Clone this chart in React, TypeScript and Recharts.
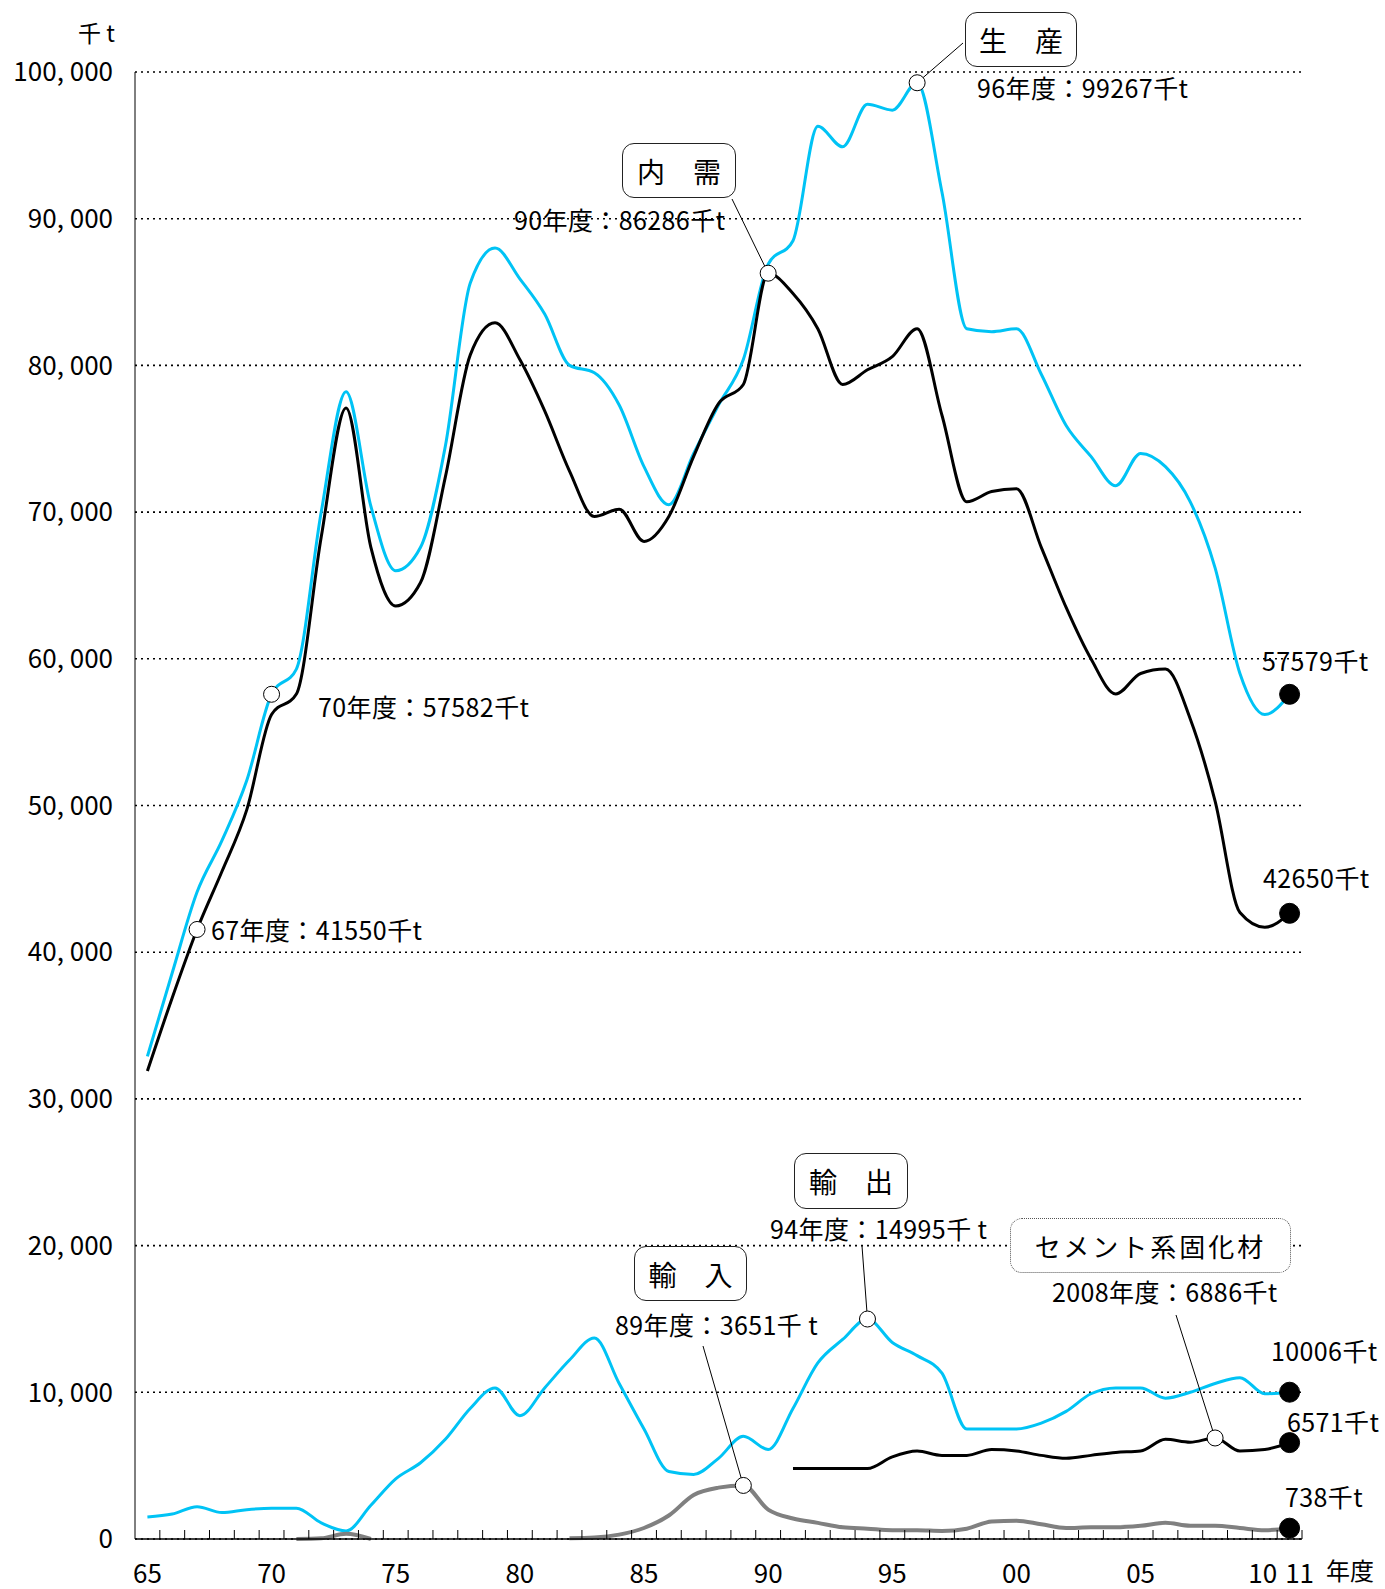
import { LineChart, Line, XAxis, YAxis, CartesianGrid, ReferenceDot, ReferenceLine } from "recharts";

const years = [
  1965, 1966, 1967, 1968, 1969, 1970, 1971, 1972, 1973, 1974, 1975, 1976, 1977, 1978, 1979, 1980,
  1981, 1982, 1983, 1984, 1985, 1986, 1987, 1988, 1989, 1990, 1991, 1992, 1993, 1994, 1995, 1996,
  1997, 1998, 1999, 2000, 2001, 2002, 2003, 2004, 2005, 2006, 2007, 2008, 2009, 2010, 2011,
];

// 生産
const production = [
  32900, 38600, 44100, 47600, 51700, 57582, 59300, 70000, 78200, 70400, 66000, 67600, 74500, 85600, 88000, 85900,
  83500, 80000, 79500, 77300, 73100, 70500, 74000, 77300, 80400, 86900, 88500, 96300, 94900, 97800, 97400, 99267,
  91800, 82500, 82300, 82500, 79400, 75900, 73800, 71800, 74000, 73100, 70700, 66200, 59000, 56200, 57579,
];

// 内需
const domestic = [
  31900, 36900, 41550, 45500, 49700, 56200, 57600, 68300, 77100, 67600, 63600, 65200, 72400, 80700, 82900, 80400,
  76900, 72800, 69700, 70200, 68000, 69700, 73800, 77400, 78700, 86286, 84900, 82500, 78700, 79700, 80600, 82500,
  76600, 70700, 71400, 71600, 67600, 63500, 60000, 57600, 59000, 59300, 55900, 50300, 42700, 41700, 42650,
];

// 輸出
const exportsT = [
  1500, 1700, 2200, 1800, 2000, 2100, 2100, 1100, 550, 2300, 4100, 5200, 6800, 8900, 10300, 8400,
  10300, 12200, 13700, 10600, 7500, 4600, 4400, 5500, 7000, 6100, 8900, 12000, 13600, 14995, 13400, 12500,
  11300, 7500, 7500, 7500, 7900, 8700, 9900, 10300, 10300, 9600, 10000, 10600, 11000, 9900, 10006,
];

// 輸入
const importsT = [
  null, null, null, null, null, null, 0, 50, 350, 0, null, null, null, null, null, null,
  null, 50, 100, 300, 750, 1600, 3000, 3500, 3651, 2000, 1400, 1100, 800, 700, 600, 600,
  550, 700, 1200, 1250, 1000, 750, 800, 800, 900, 1100, 900, 900, 750, 600, 738,
];

// セメント系固化材
const solidifier = [
  null, null, null, null, null, null, null, null, null, null, null, null, null, null, null, null,
  null, null, null, null, null, null, null, null, null, null, 4800, 4800, 4800, 4800, 5600, 6000,
  5700, 5700, 6100, 6000, 5700, 5500, 5700, 5900, 6000, 6800, 6600, 6886, 6000, 6100, 6571,
];

const yTicks = [0, 10000, 20000, 30000, 40000, 50000, 60000, 70000, 80000, 90000, 100000];
const xLabelYears = [1965, 1970, 1975, 1980, 1985, 1990, 1995, 2000, 2005, 2010, 2011];

const data = years.map((year, i) => ({
  year,
  production: production[i],
  domestic: domestic[i],
  exportsT: exportsT[i],
  importsT: importsT[i],
  solidifier: solidifier[i],
}));

const W = 1385;
const H = 1589;
const PLOT = { left: 135, right: 1302, top: 72, bottom: 1539 };
const X_MIN = 1964.5;
const X_MAX = 2011.5;
const Y_MAX = 100000;

const CYAN = "#00C3F5";
const FONT = "'Noto Sans CJK JP', 'Noto Sans', sans-serif";

// pixel -> data, for leader-line anchors at the callout boxes
const toData = (px: number, py: number) => ({
  x: X_MIN + ((px - PLOT.left) / (PLOT.right - PLOT.left)) * (X_MAX - X_MIN),
  y: ((PLOT.bottom - py) / (PLOT.bottom - PLOT.top)) * Y_MAX,
});

const at = (arr: (number | null)[], year: number) => arr[years.indexOf(year)] as number;

const xTicks = [...xLabelYears, ...years.map((y) => y + 0.5)];

const XTick = (props: any) => {
  const { x, y, payload } = props;
  const v = payload.value;
  if (!Number.isInteger(v)) {
    return <line x1={x} x2={x} y1={y} y2={y - 9} stroke="#000" strokeWidth={1} />;
  }
  const label = String(v % 100).padStart(2, "0");
  const shift = v === 2011 ? 10 : v === 2010 ? -2 : 0;
  return (
    <text x={x + shift} y={y + 44} textAnchor="middle" fontSize={26} fontFamily={FONT} fill="#000">
      {label}
    </text>
  );
};

const fmtY = (v: number) => (v === 0 ? "0" : `${Math.floor(v / 1000)}, ${String(v % 1000).padStart(3, "0")}`);

const Box = ({ left, top, width, height, text, dotted, fontSize = 28, spacing = 0 }: any) => (
  <div
    style={{
      position: "absolute",
      left,
      top,
      width,
      height,
      boxSizing: "border-box",
      border: dotted ? "1.5px dotted #555" : "1.5px solid #222",
      borderRadius: 12,
      background: "#fff",
      display: "flex",
      alignItems: "center",
      justifyContent: "center",
      fontFamily: FONT,
      fontSize,
      letterSpacing: spacing,
      color: "#000",
      whiteSpace: "pre",
    }}
  >
    {text}
  </div>
);

const Label = ({ left, cy, text, size = 25, spacing = 0.4 }: any) => (
  <div
    style={{
      position: "absolute",
      left,
      top: cy - size * 0.6,
      fontFamily: FONT,
      fontSize: size,
      lineHeight: 1.2,
      letterSpacing: spacing,
      color: "#000",
      whiteSpace: "pre",
    }}
  >
    {text}
  </div>
);

const leaders = [
  { from: { x: 1996, y: at(production, 1996) }, to: toData(963, 43) },
  { from: { x: 1990, y: at(domestic, 1990) }, to: toData(732, 199) },
  { from: { x: 1994, y: at(exportsT, 1994) }, to: toData(862, 1246) },
  { from: { x: 1989, y: at(importsT, 1989) }, to: toData(703, 1346) },
  { from: { x: 2008, y: at(solidifier, 2008) }, to: toData(1176, 1315) },
];

const openDots = [
  { x: 1967, y: at(domestic, 1967) },
  { x: 1970, y: at(production, 1970) },
  { x: 1990, y: at(domestic, 1990) },
  { x: 1996, y: at(production, 1996) },
  { x: 1989, y: at(importsT, 1989) },
  { x: 1994, y: at(exportsT, 1994) },
  { x: 2008, y: at(solidifier, 2008) },
];

const endDots = [production, domestic, exportsT, solidifier, importsT].map((arr) => ({ x: 2011, y: at(arr, 2011) }));

export default function App() {
  return (
    <div style={{ position: "absolute", left: 0, top: 0, width: W, height: H, background: "#fff", overflow: "hidden" }}>
      <LineChart
        width={W}
        height={H}
        data={data}
        margin={{ top: PLOT.top, right: W - PLOT.right, bottom: 10, left: PLOT.left - 100 }}
      >
        <CartesianGrid vertical={false} stroke="#000" strokeDasharray="2 4" strokeWidth={1.6} />
        <XAxis
          type="number"
          dataKey="year"
          domain={[X_MIN, X_MAX]}
          ticks={xTicks}
          interval={0}
          tick={<XTick />}
          tickLine={false}
          tickSize={0}
          tickMargin={0}
          height={40}
          axisLine={{ stroke: "#000", strokeWidth: 1.5 }}
        />
        <YAxis
          type="number"
          domain={[0, Y_MAX]}
          ticks={yTicks}
          interval={0}
          width={100}
          tickLine={false}
          tickSize={0}
          tickMargin={22}
          tickFormatter={fmtY}
          tick={{ fontSize: 26, fontFamily: FONT, fill: "#000" }}
          axisLine={{ stroke: "#000", strokeWidth: 1 }}
        />
        <Line dataKey="production" type="monotone" stroke={CYAN} strokeWidth={3} dot={false} isAnimationActive={false} />
        <Line dataKey="exportsT" type="monotone" stroke={CYAN} strokeWidth={3} dot={false} isAnimationActive={false} />
        <Line dataKey="importsT" type="monotone" stroke="#808080" strokeWidth={4} dot={false} isAnimationActive={false} />
        <Line dataKey="domestic" type="monotone" stroke="#000" strokeWidth={3} dot={false} isAnimationActive={false} />
        <Line dataKey="solidifier" type="monotone" stroke="#000" strokeWidth={3} dot={false} isAnimationActive={false} />
        {leaders.map((l, i) => (
          <ReferenceLine key={`l${i}`} segment={[l.from, l.to]} stroke="#000" strokeWidth={1} ifOverflow="visible" />
        ))}
        {openDots.map((d, i) => (
          <ReferenceDot key={`o${i}`} x={d.x} y={d.y} r={8} fill="#fff" stroke="#000" strokeWidth={1} ifOverflow="visible" />
        ))}
        {endDots.map((d, i) => (
          <ReferenceDot key={`e${i}`} x={d.x} y={d.y} r={10} fill="#000" stroke="#000" ifOverflow="visible" />
        ))}
      </LineChart>

      <Label left={78} cy={33} text="千 t" size={23} spacing={0} />
      <Label left={1326} cy={1570} text="年度" size={24} spacing={0} />

      <Box left={965} top={12} width={112} height={55} text={"生　産"} />
      <Label left={977} cy={87} text="96年度：99267千t" />
      <Box left={622} top={143} width={114} height={55} text={"内　需"} />
      <Label left={514} cy={219} text="90年度：86286千t" />
      <Label left={318} cy={706} text="70年度：57582千t" />
      <Label left={211} cy={929} text="67年度：41550千t" />
      <Label left={1262} cy={660} text="57579千t" />
      <Label left={1263} cy={877} text="42650千t" />

      <Box left={794} top={1153} width={114} height={56} text={"輸　出"} />
      <Label left={770} cy={1228} text="94年度：14995千 t" />
      <Box left={634} top={1246} width={113} height={55} text={"輸　入"} />
      <Label left={615} cy={1324} text="89年度：3651千 t" />
      <Box left={1010} top={1218} width={281} height={55} text="セメント系固化材" dotted fontSize={26} spacing={3} />
      <Label left={1052} cy={1291} text="2008年度：6886千t" />
      <Label left={1271} cy={1350} text="10006千t" />
      <Label left={1287} cy={1421} text="6571千t" />
      <Label left={1285} cy={1496} text="738千t" />
    </div>
  );
}
